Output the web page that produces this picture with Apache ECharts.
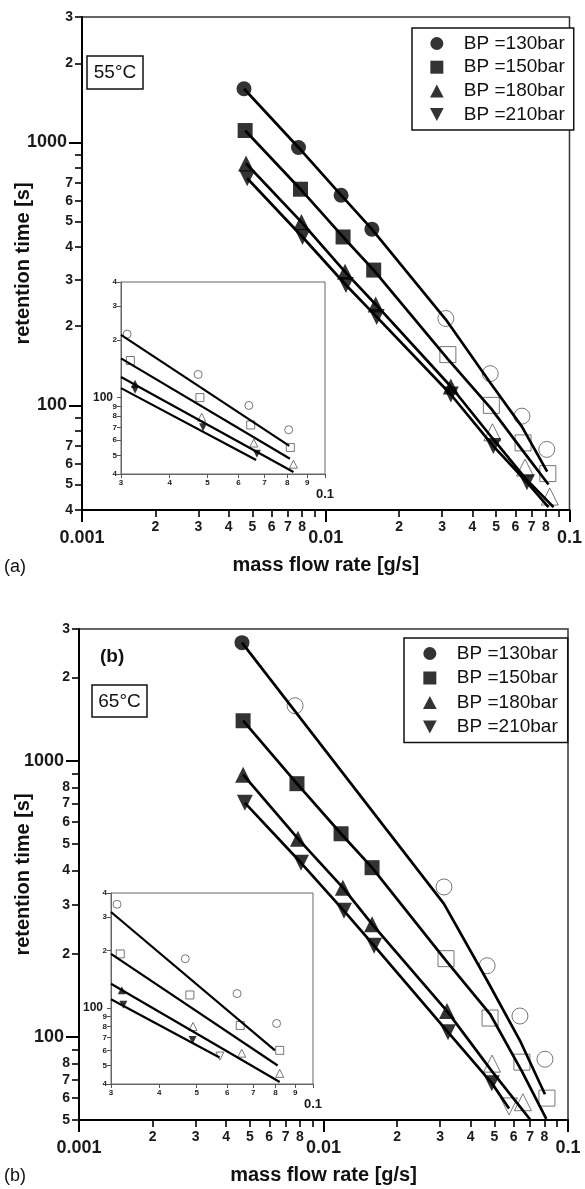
<!DOCTYPE html>
<html><head><meta charset="utf-8">
<script src="https://cdn.jsdelivr.net/npm/echarts@6/dist/echarts.min.js"></script>
<style>html,body{margin:0;padding:0;background:#fff}#c{width:585px;height:1189px}</style>
</head><body><div id="c"></div>
<script>
const FONT = "'Liberation Sans', Arial, Helvetica, sans-serif";
const L = v => Math.log10(v);

const seriesNames = ['BP =130bar', 'BP =150bar', 'BP =180bar', 'BP =210bar'];

// ---------- Panel (a): 55 °C, measured points ----------
const flowA130 = [0.00462, 0.00773, 0.01156, 0.01546, 0.0311, 0.0473, 0.0638, 0.0807];
const timeA130 = [1601, 957, 630, 468, 214, 132, 91, 68];
const flowA150 = [0.00467, 0.00788, 0.01178, 0.01573, 0.0317, 0.0478, 0.0645, 0.0815];
const timeA150 = [1110, 664, 437, 327, 156, 100, 72, 55];
const flowA180 = [0.00471, 0.00795, 0.0120, 0.01603, 0.0326, 0.0483, 0.0657, 0.083];
const timeA180 = [832, 498, 322, 242, 118, 79, 58, 45];
const flowA210 = [0.00476, 0.00803, 0.0121, 0.01618, 0.0326, 0.0487, 0.0669];
const timeA210 = [731, 437, 287, 217, 110, 70, 51];
const filledCountA = [4, 4, 5, 7];
// panel (a) model curves
const fitFlowA130 = [0.00462, 0.00773, 0.01156, 0.01546, 0.0311, 0.0473, 0.0638, 0.081];
const fitTimeA130 = [1601, 957, 630, 468, 212, 122, 83, 56];
const fitFlowA150 = [0.00467, 0.00788, 0.01178, 0.01573, 0.0317, 0.0478, 0.0645, 0.082];
const fitTimeA150 = [1110, 664, 437, 327, 150, 97, 67, 50];
const fitFlowA180 = [0.00471, 0.00795, 0.0120, 0.01603, 0.0326, 0.0483, 0.0657, 0.086];
const fitTimeA180 = [832, 498, 322, 242, 118, 75, 53, 41];
const fitFlowA210 = [0.00476, 0.00803, 0.0121, 0.01618, 0.0326, 0.0487, 0.0669, 0.082];
const fitTimeA210 = [731, 437, 287, 217, 110, 70, 51, 41];
// panel (a) inset model lines
const insetFitFlowA130 = [0.03, 0.081];  const insetFitTimeA130 = [212, 56];
const insetFitFlowA150 = [0.03, 0.0813]; const insetFitTimeA150 = [160, 48];
const insetFitFlowA180 = [0.03, 0.083];  const insetFitTimeA180 = [128, 41];
const insetFitFlowA210 = [0.03, 0.0666]; const insetFitTimeA210 = [112, 47.3];

// ---------- Panel (b): 65 °C, measured points ----------
const flowB130 = [0.00464, 0.00765, 0.0311, 0.0467, 0.0636, 0.0805];
const timeB130 = [2677, 1582, 349, 181, 119, 83];
const flowB150 = [0.00469, 0.00779, 0.0118, 0.0158, 0.0317, 0.048, 0.0648, 0.082];
const timeB150 = [1396, 826, 544, 410, 192, 117, 81, 60];
const flowB180 = [0.00469, 0.00786, 0.0120, 0.0158, 0.032, 0.0489, 0.0654, 0.082];
const timeB180 = [890, 522, 347, 256, 124, 80, 58, 45.5];
const flowB210 = [0.00477, 0.00809, 0.01213, 0.0161, 0.0323, 0.0488, 0.0574];
const timeB210 = [704, 427, 286, 214, 104, 68, 56];
const filledCountB = [1, 4, 5, 6];
// panel (b) model curves
const fitFlowB130 = [0.00464, 0.0311, 0.0467, 0.0636, 0.0805];
const fitTimeB130 = [2677, 303, 160, 97, 62];
const fitFlowB150 = [0.00469, 0.00779, 0.0118, 0.0158, 0.0317, 0.048, 0.0648, 0.0815];
const fitTimeB150 = [1396, 826, 544, 410, 189, 121, 75, 50.5];
const fitFlowB180 = [0.00469, 0.00786, 0.0120, 0.0158, 0.032, 0.0489, 0.07];
const fitTimeB180 = [890, 522, 347, 256, 124, 75, 50.2];
const fitFlowB210 = [0.00477, 0.00809, 0.01213, 0.0161, 0.0323, 0.0488, 0.0574];
const fitTimeB210 = [704, 427, 286, 214, 104, 68, 55];
// panel (b) inset model lines
const insetFitFlowB130 = [0.03, 0.0797]; const insetFitTimeB130 = [318, 60];
const insetFitFlowB150 = [0.03, 0.081];  const insetFitTimeB150 = [192, 50];
const insetFitFlowB180 = [0.03, 0.082];  const insetFitTimeB180 = [134, 41];
const insetFitFlowB210 = [0.03, 0.0573]; const insetFitTimeB210 = [111, 55];

// ---------- ticks and labels ----------
const xDecadeTicks = [0.001, 0.01, 0.1];
const xDecadeLabels = ['0.001', '0.01', '0.1'];
const xMinorTicks = [0.002,0.003,0.004,0.005,0.006,0.007,0.008,0.009,0.02,0.03,0.04,0.05,0.06,0.07,0.08,0.09];
const xMinorLabelValues = [0.002,0.003,0.004,0.005,0.006,0.007,0.008,0.02,0.03,0.04,0.05,0.06,0.07,0.08];
const yDecadeTicks = [100, 1000];
const yDecadeLabels = ['100', '1000'];
const yMinorTicksA = [40,50,60,70,80,90,200,300,400,500,600,700,800,900,2000,3000];
const yMinorLabelValuesA = [40,50,60,70,200,300,400,500,600,700,2000,3000];
const yMinorTicksB = [50,60,70,80,90,200,300,400,500,600,700,800,900,2000,3000];
const yMinorLabelValuesB = [50,60,70,80,200,300,400,500,600,700,800,2000,3000];
const insetXTicks = [0.03,0.04,0.05,0.06,0.07,0.08,0.09,0.1];
const insetXLabelValues = [0.03,0.04,0.05,0.06,0.07,0.08,0.09];
const insetXEndLabel = [0.1];
const insetYTicks = [40,50,60,70,80,90,100,200,300,400];

const mantissa = v => { const e = Math.floor(v + 1e-9); return Math.round(Math.pow(10, v - e)); };
const lookup = (vals, labels) => v => { const i = vals.findIndex(t => Math.abs(L(t) - v) < 1e-6); return i >= 0 ? labels[i] : ''; };

const BOLD = {fontFamily: FONT, fontWeight: 'bold', color: '#1a1a1a'};

function mainX(grid, name) {
  return [
    {type: 'value', gridIndex: grid, min: -3, max: -1, position: 'bottom',
     axisLine: {show: true, onZero: false, lineStyle: {color: '#000', width: 2}},
     axisTick: {show: true, length: 12, lineStyle: {color: '#000', width: 2}, customValues: xDecadeTicks.map(L)},
     axisLabel: Object.assign({show: true, margin: 19, fontSize: 18, customValues: xDecadeTicks.map(L),
       formatter: lookup(xDecadeTicks, xDecadeLabels)}, BOLD),
     splitLine: {show: false},
     name: name, nameLocation: 'middle', nameGap: 45, nameMoveOverlap: false,
     nameTextStyle: {fontFamily: FONT, fontWeight: 'bold', fontSize: 20, color: '#111'}},
    {type: 'value', gridIndex: grid, min: -3, max: -1, position: 'bottom',
     axisLine: {show: false, onZero: false},
     axisTick: {show: true, length: 7, lineStyle: {color: '#000', width: 1.6}, customValues: xMinorTicks.map(L)},
     axisLabel: Object.assign({show: true, margin: 10, fontSize: 14, customValues: xMinorLabelValues.map(L),
       formatter: v => String(mantissa(v))}, BOLD),
     splitLine: {show: false}}
  ];
}
function mainY(grid, ymin, minorTicks, minorLabels, gap) {
  return [
    {type: 'value', gridIndex: grid, min: L(ymin), max: L(3000), position: 'left',
     axisLine: {show: true, onZero: false, lineStyle: {color: '#000', width: 2}},
     axisTick: {show: true, length: 13, lineStyle: {color: '#000', width: 2}, customValues: yDecadeTicks.map(L)},
     axisLabel: Object.assign({show: true, margin: 15, fontSize: 18, customValues: yDecadeTicks.map(L),
       formatter: lookup(yDecadeTicks, yDecadeLabels)}, BOLD),
     splitLine: {show: false},
     name: 'retention time [s]', nameLocation: 'middle', nameGap: gap, nameMoveOverlap: false,
     nameTextStyle: {fontFamily: FONT, fontWeight: 'bold', fontSize: 20, color: '#111'}},
    {type: 'value', gridIndex: grid, min: L(ymin), max: L(3000), position: 'left',
     axisLine: {show: false, onZero: false},
     axisTick: {show: true, length: 7, lineStyle: {color: '#000', width: 1.6}, customValues: minorTicks.map(L)},
     axisLabel: Object.assign({show: true, margin: 9, fontSize: 14, customValues: minorLabels.map(L),
       formatter: v => String(mantissa(v))}, BOLD),
     splitLine: {show: false}}
  ];
}
function insetX(grid) {
  return [
    {type: 'value', gridIndex: grid, min: L(0.03), max: -1, position: 'bottom',
     axisLine: {show: true, onZero: false, lineStyle: {color: '#666', width: 1}},
     axisTick: {show: true, length: 4, lineStyle: {color: '#555', width: 1}, customValues: insetXTicks.map(L)},
     axisLabel: Object.assign({show: true, margin: 5, fontSize: 8, customValues: insetXLabelValues.map(L),
       formatter: v => String(mantissa(v))}, BOLD),
     splitLine: {show: false}},
    {type: 'value', gridIndex: grid, min: L(0.03), max: -1, position: 'bottom',
     axisLine: {show: false, onZero: false}, axisTick: {show: false},
     axisLabel: Object.assign({show: true, margin: 14, fontSize: 13, customValues: insetXEndLabel.map(L),
       formatter: () => '0.1'}, BOLD),
     splitLine: {show: false}}
  ];
}
function insetY(grid) {
  return {type: 'value', gridIndex: grid, min: L(40), max: L(400), position: 'left',
    axisLine: {show: true, onZero: false, lineStyle: {color: '#666', width: 1}},
    axisTick: {show: true, length: 4, lineStyle: {color: '#555', width: 1}, customValues: insetYTicks.map(L)},
    axisLabel: {show: true, margin: 4, customValues: insetYTicks.map(L),
      formatter: v => { const m = mantissa(v); return m === 1 ? '{b|100}' : '{s|' + m + '}'; },
      rich: {b: {fontFamily: FONT, fontWeight: 'bold', fontSize: 12, color: '#1a1a1a', padding: [0, 4, 0, 0]},
             s: {fontFamily: FONT, fontWeight: 'bold', fontSize: 8, color: '#1a1a1a'}}},
    splitLine: {show: false}};
}

const symbols = ['circle', 'rect', 'triangle', 'triangle'];
const rotations = [0, 0, 0, 180];

function buildSeries(flows, times, filled, fitF, fitT, inF, inT, xi, yi, xin, yin) {
  const out = [];
  for (let i = 0; i < 4; i++) {
    const pts = flows[i].map((x, k) => [L(x), L(times[i][k])]);
    const solid = pts.slice(0, filled[i]);
    const open = pts.slice(filled[i]);
    const fit = fitF[i].map((x, k) => [L(x), L(fitT[i][k])]);
    const infit = inF[i].map((x, k) => [L(x), L(inT[i][k])]);
    const sz = i >= 2 ? 16 : 15;
    out.push({type: 'scatter', name: seriesNames[i] + ' open', xAxisIndex: xi, yAxisIndex: yi, data: open,
      symbol: symbols[i], symbolRotate: rotations[i], symbolSize: sz + 1, clip: true, silent: true,
      itemStyle: {color: 'rgba(255,255,255,0)', borderColor: '#555', borderWidth: 1}, z: 2});
    out.push({type: 'line', name: seriesNames[i] + ' fit', xAxisIndex: xi, yAxisIndex: yi, data: fit,
      symbol: 'none', showSymbol: false, clip: true, silent: true,
      lineStyle: {color: '#000', width: 2.7}, z: 3});
    out.push({type: 'scatter', name: seriesNames[i], xAxisIndex: xi, yAxisIndex: yi, data: solid,
      symbol: symbols[i], symbolRotate: rotations[i], symbolSize: sz, clip: true,
      itemStyle: {color: '#000'}, z: 4});
    // inset
    out.push({type: 'line', name: seriesNames[i] + ' inset fit', xAxisIndex: xin, yAxisIndex: yin, data: infit,
      symbol: 'none', showSymbol: false, clip: true, silent: true,
      lineStyle: {color: '#000', width: 2.2}, z: 6});
    out.push({type: 'scatter', name: seriesNames[i] + ' inset open', xAxisIndex: xin, yAxisIndex: yin, data: open,
      symbol: symbols[i], symbolRotate: rotations[i], symbolSize: 8, clip: true, silent: true,
      itemStyle: {color: 'rgba(255,255,255,0)', borderColor: '#555', borderWidth: 1}, z: 5});
    out.push({type: 'scatter', name: seriesNames[i] + ' inset', xAxisIndex: xin, yAxisIndex: yin, data: solid,
      symbol: symbols[i], symbolRotate: rotations[i], symbolSize: 8, clip: true, silent: true,
      itemStyle: {color: '#000'}, z: 7});
  }
  return out;
}

const seriesA = buildSeries(
  [flowA130, flowA150, flowA180, flowA210], [timeA130, timeA150, timeA180, timeA210], filledCountA,
  [fitFlowA130, fitFlowA150, fitFlowA180, fitFlowA210], [fitTimeA130, fitTimeA150, fitTimeA180, fitTimeA210],
  [insetFitFlowA130, insetFitFlowA150, insetFitFlowA180, insetFitFlowA210],
  [insetFitTimeA130, insetFitTimeA150, insetFitTimeA180, insetFitTimeA210], 0, 0, 2, 2);
const seriesB = buildSeries(
  [flowB130, flowB150, flowB180, flowB210], [timeB130, timeB150, timeB180, timeB210], filledCountB,
  [fitFlowB130, fitFlowB150, fitFlowB180, fitFlowB210], [fitTimeB130, fitTimeB150, fitTimeB180, fitTimeB210],
  [insetFitFlowB130, insetFitFlowB150, insetFitFlowB180, insetFitFlowB210],
  [insetFitTimeB130, insetFitTimeB150, insetFitTimeB180, insetFitTimeB210], 4, 3, 6, 5);

const legendIcons = ['circle', 'path://M0,0L10,0L10,10L0,10Z', 'path://M5,0L10,9.5L0,9.5Z', 'path://M0,0L10,0L5,9.5Z'];
function legendAt(left, top, gap, pad) {
  return {orient: 'vertical', left: left, top: top, selectedMode: false, symbolKeepAspect: true,
    data: seriesNames.map((n, i) => ({name: n, icon: legendIcons[i], itemStyle: {color: '#000', borderWidth: 0}})),
    itemWidth: 44, itemHeight: 13, itemGap: gap, padding: pad,
    borderColor: '#111', borderWidth: 1.5, backgroundColor: '#fff',
    textStyle: {fontFamily: FONT, fontSize: 19, color: '#111', lineHeight: 19}};
}

const option = {
  animation: false,
  backgroundColor: '#fff',
  grid: [
    {left: 82, top: 17, width: 493, height: 493, show: true, borderColor: '#333', borderWidth: 1.5, backgroundColor: 'transparent'},
    {left: 121, top: 282, width: 204, height: 192, show: true, borderColor: '#666', borderWidth: 1, backgroundColor: '#fff'},
    {left: 79, top: 629, width: 489, height: 491, show: true, borderColor: '#333', borderWidth: 1.5, backgroundColor: 'transparent'},
    {left: 111, top: 893, width: 202, height: 191, show: true, borderColor: '#666', borderWidth: 1, backgroundColor: '#fff'}
  ],
  xAxis: [].concat(mainX(0, 'mass flow rate [g/s]'), insetX(1), mainX(2, 'mass flow rate [g/s]'), insetX(3)),
  yAxis: [].concat(mainY(0, 40, yMinorTicksA, yMinorLabelValuesA, 49), [insetY(1)],
                   mainY(2, 50, yMinorTicksB, yMinorLabelValuesB, 46), [insetY(3)]),
  legend: [legendAt(412, 28, 4.7, [6, 9, 6, 18]), legendAt(404, 638, 5.5, [6, 10, 6, 19])],
  graphic: [
    {type: 'rect', shape: {x: 87, y: 56, width: 56, height: 33}, style: {fill: '#fff', stroke: '#111', lineWidth: 1.5}, z: 10},
    {type: 'text', x: 115, y: 73, style: {text: '55°C', fontFamily: FONT, fontSize: 19, fill: '#111', align: 'center', verticalAlign: 'middle'}, z: 11},
    {type: 'rect', shape: {x: 92, y: 685, width: 55, height: 32}, style: {fill: '#fff', stroke: '#111', lineWidth: 1.5}, z: 10},
    {type: 'text', x: 119.5, y: 701.5, style: {text: '65°C', fontFamily: FONT, fontSize: 19, fill: '#111', align: 'center', verticalAlign: 'middle'}, z: 11},
    {type: 'text', x: 100, y: 657, style: {text: '(b)', fontFamily: FONT, fontWeight: 'bold', fontSize: 19, fill: '#111', align: 'left', verticalAlign: 'middle'}, z: 11},
    {type: 'text', x: 4, y: 567, style: {text: '(a)', fontFamily: FONT, fontSize: 18, fill: '#111', align: 'left', verticalAlign: 'middle'}, z: 11},
    {type: 'text', x: 4, y: 1176, style: {text: '(b)', fontFamily: FONT, fontSize: 18, fill: '#111', align: 'left', verticalAlign: 'middle'}, z: 11}
  ],
  series: seriesA.concat(seriesB)
};

const chart = echarts.init(document.getElementById('c'), null, {renderer: 'canvas'});
chart.setOption(option);
</script></body></html>
